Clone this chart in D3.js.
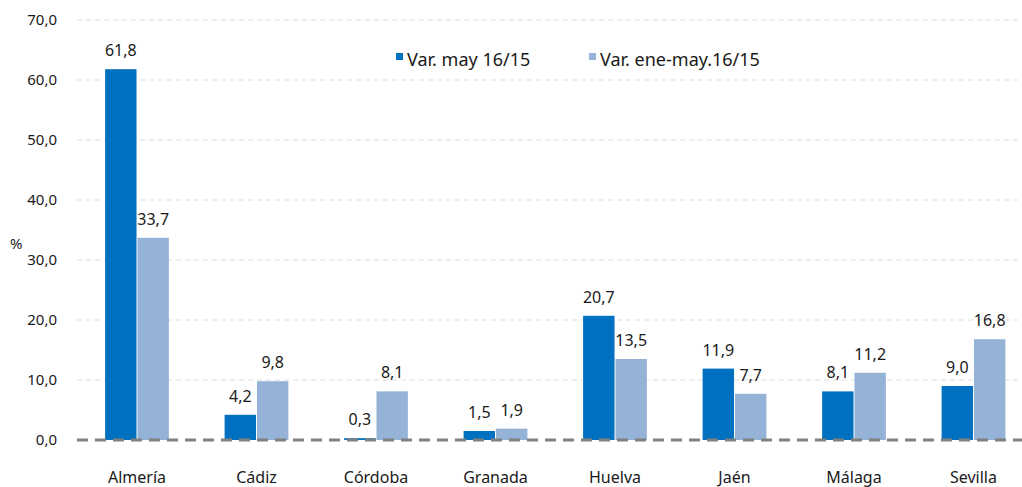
<!DOCTYPE html>
<html>
<head>
<meta charset="utf-8">
<script src="https://cdn.jsdelivr.net/npm/d3@7"></script>
<style>
  body { margin: 0; background: #fff; }
  text { font-family: "Noto Sans", "DejaVu Sans", sans-serif; fill: #1a1a1a; }
</style>
</head>
<body>
<script>
var categories = ["Almería", "Cádiz", "Córdoba", "Granada", "Huelva", "Jaén", "Málaga", "Sevilla"];
var seriesNames = ["Var. may 16/15", "Var. ene-may.16/15"];
var varMay = [61.8, 4.2, 0.3, 1.5, 20.7, 11.9, 8.1, 9.0];
var varEneMay = [33.7, 9.8, 8.1, 1.9, 13.5, 7.7, 11.2, 16.8];
var yTicks = [0, 10, 20, 30, 40, 50, 60, 70];
var colors = ["#0070C0", "#95B3D7"];

var width = 1022, height = 487;
var fmt = function(v) { return d3.format(".1f")(v).replace(".", ","); };

var svg = d3.select("body").append("svg")
    .attr("width", width)
    .attr("height", height);

var y = d3.scaleLinear().domain([0, 70]).range([440, 20]);

var x0 = d3.scaleBand()
    .domain(categories)
    .range([77.25, 1033.25])
    .paddingInner(0.45)
    .paddingOuter(0.225);

var x1 = d3.scaleBand()
    .domain(seriesNames)
    .range([0, x0.bandwidth()])
    .padding(0.03);

// gridlines
svg.append("g")
    .selectAll("line")
    .data(yTicks.filter(function(d) { return d > 0; }))
    .enter().append("line")
    .attr("x1", 77).attr("x2", width)
    .attr("y1", function(d) { return y(d); })
    .attr("y2", function(d) { return y(d); })
    .attr("stroke", "#dedede")
    .attr("stroke-width", 1)
    .attr("stroke-dasharray", "5,4");

// y axis labels
var yAxis = svg.append("g")
    .attr("transform", "translate(57,0)")
    .call(d3.axisLeft(y).tickValues(yTicks).tickFormat(fmt).tickSize(0).tickPadding(0));
yAxis.select(".domain").remove();
yAxis.selectAll("text")
    .style("font-size", "15px")
    .style("font-family", "'Noto Sans', sans-serif")
    .attr("fill", "#1a1a1a");

svg.append("text")
    .attr("x", 10).attr("y", 249)
    .style("font-size", "15px")
    .text("%");

var rows = categories.map(function(c, i) {
    return { cat: c, vals: [varMay[i], varEneMay[i]] };
});

var groups = svg.selectAll(".grp")
    .data(rows)
    .enter().append("g")
    .attr("class", "grp")
    .attr("transform", function(d) { return "translate(" + x0(d.cat) + ",0)"; });

groups.selectAll("rect")
    .data(function(d) { return d.vals.map(function(v, k) { return { s: seriesNames[k], v: v, k: k }; }); })
    .enter().append("rect")
    .attr("x", function(d) { return x1(d.s); })
    .attr("y", function(d) { return y(d.v); })
    .attr("width", x1.bandwidth())
    .attr("height", function(d) { return y(0) - y(d.v); })
    .attr("fill", function(d) { return colors[d.k]; });

groups.selectAll(".lbl")
    .data(function(d) { return d.vals.map(function(v, k) { return { s: seriesNames[k], v: v }; }); })
    .enter().append("text")
    .attr("class", "lbl")
    .attr("x", function(d) { return x1(d.s) + x1.bandwidth() / 2; })
    .attr("y", function(d) { return y(d.v) - 13; })
    .attr("text-anchor", "middle")
    .style("font-size", "16px")
    .text(function(d) { return fmt(d.v); });

// baseline
svg.append("line")
    .attr("x1", 77).attr("x2", width)
    .attr("y1", y(0)).attr("y2", y(0))
    .attr("stroke", "#808080")
    .attr("stroke-width", 3)
    .attr("stroke-dasharray", "11,7");

// category labels
svg.append("g")
    .selectAll("text")
    .data(categories)
    .enter().append("text")
    .attr("x", function(d) { return x0(d) + x0.bandwidth() / 2; })
    .attr("y", 483)
    .attr("text-anchor", "middle")
    .style("font-size", "16px")
    .text(function(d) { return d; });

// legend
var legendX = [396, 589];
var legend = svg.selectAll(".leg")
    .data(seriesNames)
    .enter().append("g")
    .attr("class", "leg")
    .attr("transform", function(d, i) { return "translate(" + legendX[i] + ",0)"; });
legend.append("rect")
    .attr("x", 0).attr("y", 53)
    .attr("width", 7).attr("height", 7)
    .attr("fill", function(d, i) { return colors[i]; });
legend.append("text")
    .attr("x", 11).attr("y", 66)
    .style("font-size", "18px")
    .text(function(d) { return d; });
</script>
</body>
</html>
